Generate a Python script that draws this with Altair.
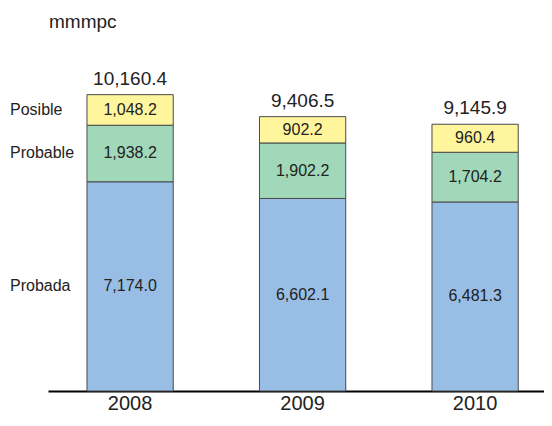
import altair as alt
import pandas as pd

years = ["2008", "2009", "2010"]
categories = ["Probada", "Probable", "Posible"]
probada = [7174.0, 6602.1, 6481.3]
probable = [1938.2, 1902.2, 1704.2]
posible = [1048.2, 902.2, 960.4]
colors = ["#99BEE5", "#A0D8B9", "#FFF59D"]
unit_label = "mmmpc"

rows = []
for i, y in enumerate(years):
    for k, (cat, vals) in enumerate(zip(categories, [probada, probable, posible])):
        rows.append({"year": y, "category": cat, "value": vals[i], "order": k})
df = pd.DataFrame(rows)

FONT = "Liberation Sans"

base = alt.Chart(df).transform_stack(
    stack="value", groupby=["year"], as_=["v0", "v1"],
    sort=[alt.SortField("order", order="ascending")]
).transform_calculate(mid="(datum.v0 + datum.v1) / 2")

xenc = alt.X("year:N", title=None, sort=years,
             scale=alt.Scale(paddingInner=0.5, paddingOuter=0.1877, align=0.602),
             axis=alt.Axis(domainColor="#000000", domainWidth=2, ticks=False,
                           labelFontSize=20, labelFont=FONT, labelColor="#222222",
                           labelPadding=2, labelAngle=0))
yscale = alt.Scale(domain=[0, 12000], nice=False, zero=True)

bars = base.mark_bar(stroke="#4a4a4a", strokeWidth=1).encode(
    x=xenc,
    y=alt.Y("v0:Q", scale=yscale, axis=None),
    y2="v1:Q",
    color=alt.Color("category:N", scale=alt.Scale(domain=categories, range=colors), legend=None),
)

inner = base.mark_text(font=FONT, fontSize=16, color="#222222", baseline="middle").encode(
    x=alt.X("year:N", sort=years),
    y=alt.Y("mid:Q", scale=yscale),
    text=alt.Text("value:Q", format=",.1f"),
)

left = base.transform_filter(alt.datum.year == years[0]).mark_text(
    font=FONT, fontSize=16, color="#222222", baseline="middle", align="left"
).encode(
    x=alt.value(-38),
    y=alt.Y("mid:Q", scale=yscale),
    text="category:N",
)

totals = alt.Chart(df).transform_aggregate(
    total="sum(value)", groupby=["year"]
).mark_text(font=FONT, fontSize=19, color="#222222", baseline="alphabetic", dy=-10).encode(
    x=alt.X("year:N", sort=years),
    y=alt.Y("total:Q", scale=yscale),
    text=alt.Text("total:Q", format=",.1f"),
)

unit = alt.Chart(pd.DataFrame({"t": [unit_label]})).mark_text(
    font=FONT, fontSize=19, color="#222222", align="left", baseline="alphabetic"
).encode(x=alt.value(1), y=alt.value(-13), text="t:N")

chart = alt.layer(bars, inner, left, totals, unit).properties(
    width=496, height=350,
    autosize=alt.AutoSizeParams(type="none"),
    padding={"left": 40, "right": 0, "top": 33, "bottom": 22},
).configure_view(stroke=None)

chart.save("out.html", embed_options={"renderer": "svg", "actions": False})
